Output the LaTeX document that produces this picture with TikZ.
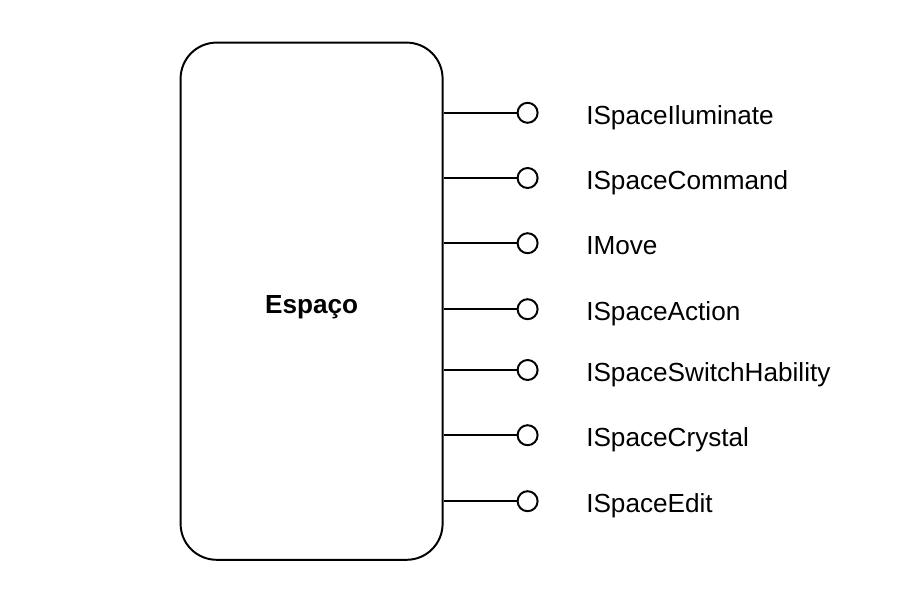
\documentclass[tikz,border=0pt]{standalone}
\usepackage{fontspec}
\setmainfont{Liberation Sans}
\usetikzlibrary{positioning}

\begin{document}
\begin{tikzpicture}[
        block/.style={rectangle, draw, line width=1.4pt, rounded corners=0.9cm, minimum width=6.55cm, minimum height=12.93cm},
        socket/.style={circle, draw, line width=1.4pt, minimum size=0.5cm, inner sep=0pt, fill=white},
        iface/.style={font=\fontsize{18.6}{22}\selectfont, anchor=base west, inner sep=0pt},
        link/.style={line width=1.4pt}
    ]
        \useasboundingbox (0,0) rectangle (22.475,-14.95);

        % Space component
        \node[block] (space) at (7.79,-7.53) {};
        \node[font=\fontsize{18.6}{22}\selectfont\bfseries, anchor=base] (spacename) at (7.79,-7.84) {Espaço};

        % Provided interfaces
        \node[socket] (s1) at (13.19,-2.82) {};
        \node[iface] (l1) at (14.65,-3.1) {ISpaceIluminate};
        \draw[link] (space.east |- s1) -- (s1);

        \node[socket] (s2) at (13.19,-4.45) {};
        \node[iface] (l2) at (14.65,-4.73) {ISpaceCommand};
        \draw[link] (space.east |- s2) -- (s2);

        \node[socket] (s3) at (13.19,-6.08) {};
        \node[iface] (l3) at (14.65,-6.36) {IMove};
        \draw[link] (space.east |- s3) -- (s3);

        \node[socket] (s4) at (13.19,-7.73) {};
        \node[iface] (l4) at (14.65,-8.01) {ISpaceAction};
        \draw[link] (space.east |- s4) -- (s4);

        \node[socket] (s5) at (13.19,-9.25) {};
        \node[iface] (l5) at (14.65,-9.53) {ISpaceSwitchHability};
        \draw[link] (space.east |- s5) -- (s5);

        \node[socket] (s6) at (13.19,-10.88) {};
        \node[iface] (l6) at (14.65,-11.16) {ISpaceCrystal};
        \draw[link] (space.east |- s6) -- (s6);

        \node[socket] (s7) at (13.19,-12.53) {};
        \node[iface] (l7) at (14.65,-12.81) {ISpaceEdit};
        \draw[link] (space.east |- s7) -- (s7);

    \end{tikzpicture}
\end{document}
